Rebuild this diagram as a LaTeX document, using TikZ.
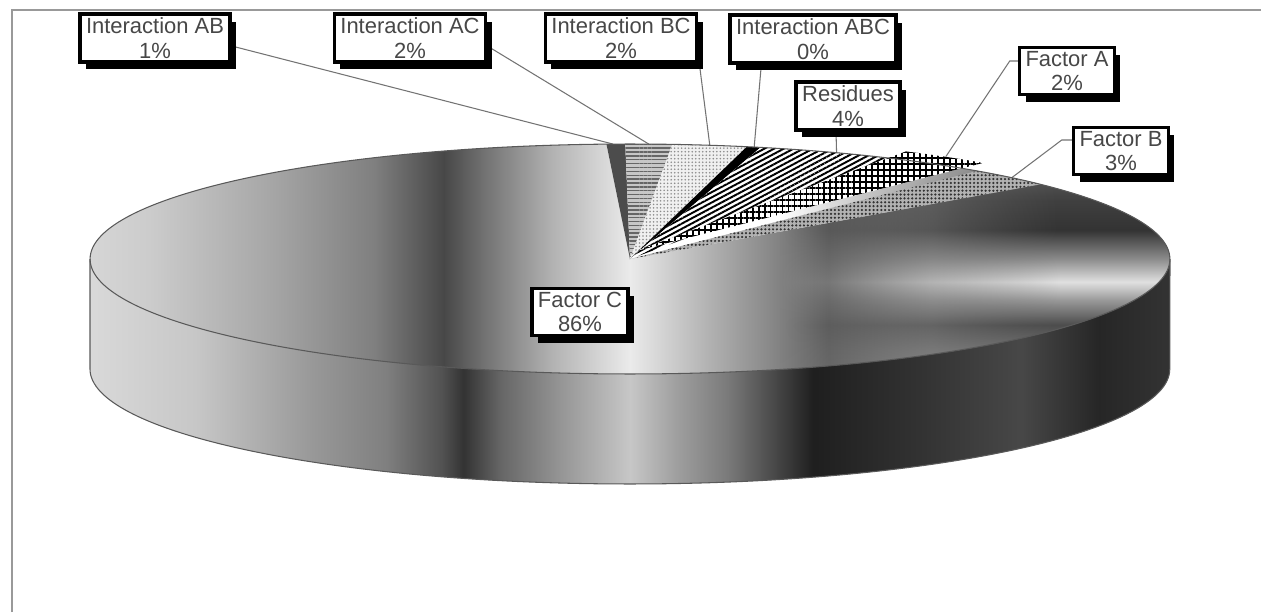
\documentclass[tikz,border=0pt]{standalone}
\usepackage{fontspec}
\setmainfont{Liberation Sans}
\usetikzlibrary{patterns.meta,shadows,backgrounds,fadings}

% shadings of the big slice
\pgfdeclarehorizontalshading{pieside}{100bp}{color(0bp)=(black!15); color(25bp)=(black!15);
  color(29.9bp)=(black!22); color(35.2bp)=(black!40); color(38.7bp)=(black!50);
  color(41.3bp)=(black!68); color(42.3bp)=(black!80); color(44bp)=(black!60);
  color(46.7bp)=(black!42); color(50bp)=(black!22); color(52.2bp)=(black!38);
  color(54.5bp)=(black!52); color(58.5bp)=(black!88); color(63.6bp)=(black!80);
  color(68.1bp)=(black!72); color(71.7bp)=(black!85); color(75bp)=(black!80);
  color(100bp)=(black!80)}
\pgfdeclarehorizontalshading{pietop}{100bp}{color(0bp)=(black!12); color(25bp)=(black!12);
  color(30.1bp)=(black!20); color(35.2bp)=(black!35); color(39.4bp)=(black!50);
  color(42.3bp)=(black!72); color(44bp)=(black!55); color(46.8bp)=(black!30);
  color(50bp)=(black!8); color(53.2bp)=(black!30); color(58.2bp)=(black!62);
  color(62.5bp)=(black!50); color(68.1bp)=(black!60); color(75bp)=(black!70);
  color(100bp)=(black!70)}
\pgfdeclareverticalshading{pieglare}{100bp}{color(0bp)=(black!45); color(25bp)=(black!45);
  color(30.2bp)=(black!55); color(35.7bp)=(black!70); color(41.1bp)=(black!40);
  color(45bp)=(black!12); color(50bp)=(black!45); color(56.3bp)=(black!80);
  color(62.8bp)=(black!75); color(75bp)=(black!55); color(100bp)=(black!55)}
\tikzfading[name=glarefade,left color=transparent!100,right color=transparent!0]

\newcommand{\pieslice}[2]{(0,0) -- (#1:10.8cm and 2.3cm)
  arc[start angle=#1,end angle=#2,x radius=10.8cm,y radius=2.3cm] -- cycle}

\tikzset{
  lbl/.style={draw=black,line width=2pt,fill=white,text=black!72,align=center,
    font=\fontsize{12.5}{14}\selectfont,inner xsep=0.12cm,inner ysep=0.07cm,
    drop shadow={shadow xshift=0.12cm,shadow yshift=-0.15cm,fill=black,opacity=1}},
  leader/.style={draw=black!55,line width=0.6pt},
  rim/.style={draw=black!65,line width=0.6pt}
}

\begin{document}
\begin{tikzpicture}[x=0.02cm,y=0.02cm]
    \useasboundingbox (-630,-353) rectangle (631,259);
    % draw the frame
    \draw[black!40,line width=1.2pt] (-618,-353) -- (-618,249) -- (631,249);

    % draw the side of the pie
    \shade[shading=pieside] (180:10.8cm and 2.3cm)
        arc[start angle=180,end angle=360,x radius=10.8cm,y radius=2.3cm] -- ++(0,-110)
        arc[start angle=0,end angle=-180,x radius=10.8cm,y radius=2.3cm] -- cycle;

    % top of Factor C, with the glare on the right
    \shade[shading=pietop] \pieslice{40.5}{-267.5};
    \begin{scope}
        \clip (0,0) ellipse[x radius=10.8cm,y radius=2.3cm];
        \shade[shading=pieglare,path fading=glarefade] (150,-115) rectangle (430,115);
        \shade[shading=pieglare] (430,-115) rectangle (560,115);
    \end{scope}

    % the small slices
    \fill[black!70] \pieslice{92.5}{90.5};
    \fill[black!22] \pieslice{90.5}{85.5};
    \fill[pattern={Lines[angle=0,distance=2.2pt,line width=0.8pt]},pattern color=black!60] \pieslice{90.5}{85.5};
    \fill[black!6] \pieslice{85.5}{77.5};
    \fill[pattern={Dots[distance=2pt,radius=0.5pt]},pattern color=black!45] \pieslice{85.5}{77.5};
    \fill[black] \pieslice{77.5}{76};
    \fill[white] \pieslice{76}{60};
    \fill[pattern={Lines[angle=28,distance=2.6pt,line width=1.1pt]},pattern color=black] \pieslice{76}{60};
    \fill[black!30] \pieslice{50}{40.5};
    \fill[pattern={Dots[distance=2.2pt,radius=0.7pt]},pattern color=black!80] \pieslice{50}{40.5};
    \begin{scope}[shift={(6,8)}]
        \fill[white] \pieslice{60}{50};
        \fill[pattern={Hatch[angle=0,distance=3.4pt,line width=1pt]},pattern color=black] \pieslice{60}{50};
        \coordinate (tA) at (55:10.8cm and 2.3cm);
    \end{scope}

    % outline of the pie
    \draw[rim] (0,0) ellipse[x radius=10.8cm,y radius=2.3cm];
    \draw[rim] (-540,0) -- (-540,-110)
        arc[start angle=180,end angle=360,x radius=10.8cm,y radius=2.3cm] -- (540,0);

    \coordinate (tAB) at (91.8:10.8cm and 2.3cm);
    \coordinate (tAC) at (88:10.8cm and 2.3cm);
    \coordinate (tBC) at (81.5:10.8cm and 2.3cm);
    \coordinate (tABC) at (76.7:10.8cm and 2.3cm);
    \coordinate (tRes) at (67.5:10.8cm and 2.3cm);
    \coordinate (tB) at (45:10.8cm and 2.3cm);

    % the labels
    \node[lbl] (nAB) at (-475,221) {Interaction AB\\1\%};
    \node[lbl] (nAC) at (-220,221) {Interaction AC\\2\%};
    \node[lbl] (nBC) at (-9,221) {Interaction BC\\2\%};
    \node[lbl] (nABC) at (183,220) {Interaction ABC\\0\%};
    \node[lbl] (nRes) at (218,153) {Residues\\4\%};
    \node[lbl] (nA) at (437,188) {Factor A\\2\%};
    \node[lbl] (nB) at (491,108) {Factor B\\3\%};
    \node[lbl] (nC) at (-50,-53) {Factor C\\86\%};

    % leader lines
    \begin{pgfonlayer}{background}
        \draw[leader] ([yshift=-0.16cm]nAB.east) -- (tAB);
        \draw[leader] ([yshift=-0.16cm]nAC.east) -- (tAC);
        \draw[leader] ([xshift=0.02cm]nBC.south east) -- (tBC);
        \draw[leader] ([xshift=0.66cm]nABC.south west) -- (tABC);
        \draw[leader] ([xshift=-0.24cm]nRes.south) -- (tRes);
        \draw[leader] ([yshift=0.2cm]nA.west) -- ++(-0.16cm,0) -- (tA);
        \draw[leader] ([yshift=0.22cm]nB.west) -- ++(-0.2cm,0) -- (tB);
    \end{pgfonlayer}
\end{tikzpicture}
\end{document}
